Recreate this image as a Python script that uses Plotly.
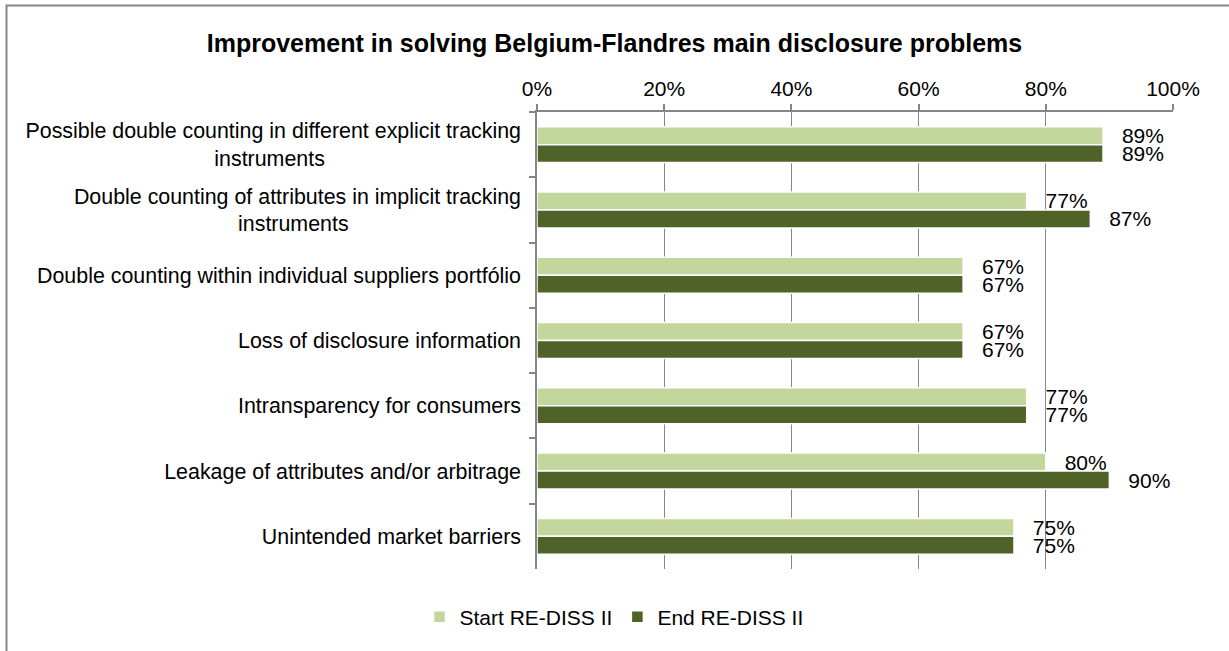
import plotly.graph_objects as go

NBSP = "\u00a0"

# Problem categories, listed top to bottom (second lines padded so they sit centred)
categories = [
    "Possible double counting in different explicit tracking<br>instruments" + NBSP * 33,
    "Double counting of attributes in implicit tracking<br>instruments" + NBSP * 29,
    "Double counting within individual suppliers portfólio",
    "Loss of disclosure information",
    "Intransparency for consumers",
    "Leakage of attributes and/or arbitrage",
    "Unintended market barriers",
]

# Share of the problem solved (fraction)
start_values = [0.89, 0.77, 0.67, 0.67, 0.77, 0.80, 0.75]
end_values = [0.89, 0.87, 0.67, 0.67, 0.77, 0.90, 0.75]

series_names = ["Start RE-DISS II", "End RE-DISS II"]
series_colors = ["#C3D69B", "#4F6228"]

x_ticks = [0, 0.2, 0.4, 0.6, 0.8, 1.0]
x_tick_labels = ["0%", "20%", "40%", "60%", "80%", "100%"]

FONT = "Liberation Sans, Arial, sans-serif"
GRAY = "#868686"

W, H = 1229, 651
L, R, T, B = 537, 56, 112, 82
PW, PH = W - L - R, H - T - B

fig = go.Figure()
for name, vals, col in zip(series_names, [start_values, end_values], series_colors):
    fig.add_trace(go.Bar(
        name=name,
        y=categories,
        x=vals,
        orientation="h",
        marker=dict(color=col, line=dict(color="white", width=1.5)),
        text=[f"{round(v * 100)}%" for v in vals],
        texttemplate=NBSP + NBSP + "\u2009%{text}",
        textposition="outside",
        constraintext="none",
        cliponaxis=False,
        textfont=dict(family=FONT, size=21, color="black"),
    ))

# outer chart frame (extends past the right and bottom page edges)
fig.add_shape(
    type="rect", xref="paper", yref="paper",
    x0=(6.5 - L) / PW, x1=(W + 10 - L) / PW,
    y0=(H - B - (H + 10)) / PH, y1=(H - B - 5.5) / PH,
    line=dict(color=GRAY, width=2), fillcolor="rgba(0,0,0,0)", layer="below",
)

fig.update_layout(
    width=W, height=H,
    margin=dict(l=L, r=R, t=T, b=B),
    paper_bgcolor="white", plot_bgcolor="white",
    barmode="group", bargap=0.45, bargroupgap=0,
    font=dict(family=FONT, size=21, color="black"),
    title=dict(
        text="Improvement in solving Belgium-Flandres main disclosure problems",
        x=0.5, xref="container", xanchor="center",
        y=1 - 43 / H, yref="container", yanchor="middle",
        font=dict(family=FONT, size=25, color="black", weight="bold"),
    ),
    xaxis=dict(
        side="top", range=[0, 1], tickvals=x_ticks, ticktext=x_tick_labels,
        showgrid=True, gridcolor=GRAY, gridwidth=1,
        showline=True, linecolor=GRAY, linewidth=1.5,
        ticks="outside", ticklen=6, tickcolor=GRAY, tickwidth=1.5,
        tickfont=dict(family=FONT, size=21, color="black"),
        zeroline=False, fixedrange=True,
    ),
    yaxis=dict(
        autorange="reversed", showgrid=False,
        showline=True, linecolor=GRAY, linewidth=1.5,
        ticks="outside", ticklen=6, tickcolor=GRAY, tickwidth=1.5,
        tickson="boundaries", ticklabelstandoff=10,
        tickfont=dict(family=FONT, size=21.4, color="black"),
        fixedrange=True,
    ),
    legend=dict(
        orientation="h", xref="container", yref="container",
        x=614 / W, xanchor="center", y=1 - 617 / H, yanchor="middle",
        font=dict(family=FONT, size=21, color="black"),
        itemwidth=30, tracegroupgap=0,
    ),
)

fig.write_html("out.html")
